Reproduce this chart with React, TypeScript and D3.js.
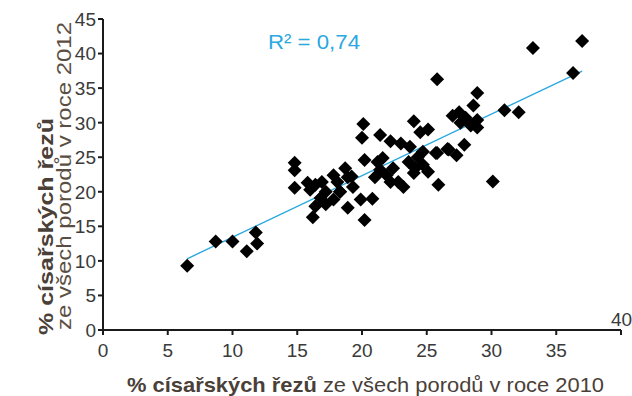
import React from 'react';
import * as d3 from 'd3';

// % caesarean sections: [2010, 2012]
const points2010: number[] = [
  6.5, 8.7, 10.0, 11.1, 11.8, 11.9,
  14.8, 14.8, 14.8, 15.8, 16.0, 16.2, 16.4, 16.4, 16.8, 16.9, 17.2, 17.2,
  17.8, 17.8, 18.1, 18.3, 18.7, 18.9, 18.9, 19.2, 19.3, 19.9, 20.2, 20.8,
  20.1, 20.0, 21.4, 22.2, 23.0, 24.0, 24.5, 25.1, 23.7, 24.7, 25.8, 26.6,
  20.2, 21.2, 21.6, 21.4, 21.0, 21.9, 22.4, 22.2, 22.8, 23.2, 23.6, 24.1,
  24.7, 25.1, 24.3, 25.9, 24.0, 18.3,
  25.8, 28.9, 28.6, 27.0, 27.5, 28.0, 27.6, 28.4, 28.9, 28.9,
  25.7, 26.7, 27.3, 27.9,
  30.1, 31.0, 32.1, 33.2, 36.3, 37.0,
];
const points2012: number[] = [
  9.3, 12.8, 12.8, 11.4, 14.1, 12.5,
  24.2, 23.1, 20.6, 21.3, 20.3, 16.3, 21.0, 17.9, 19.1, 21.4, 20.0, 18.2,
  22.4, 18.9, 21.4, 20.0, 23.4, 22.1, 17.7, 22.2, 20.7, 18.9, 15.9, 19.0,
  29.8, 27.8, 28.2, 27.3, 27.0, 30.2, 28.6, 29.0, 26.5, 25.8, 25.6, 26.2,
  24.6, 24.3, 24.9, 23.2, 22.1, 22.4, 23.4, 21.4, 21.4, 20.7, 24.3, 23.4,
  23.9, 22.9, 25.0, 21.0, 22.7, 20.0,
  36.3, 34.3, 32.5, 31.0, 31.5, 30.7, 30.0, 29.6, 30.4, 29.3,
  25.6, 26.1, 25.3, 26.8,
  21.5, 31.8, 31.5, 40.8, 37.2, 41.8,
];
const xTicks = [0, 5, 10, 15, 20, 25, 30, 35];
const yTicks = [0, 5, 10, 15, 20, 25, 30, 35, 40, 45];
const rSquaredLabel = 'R² = 0,74';

export default function App() {
  const width = 632;
  const height = 396;
  const x = d3.scaleLinear().domain([0, 40]).range([103, 621]);
  const y = d3.scaleLinear().domain([0, 45]).range([330, 19]);

  const data = points2010.map((v, i) => [v, points2012[i]] as [number, number]);

  // least squares trend line
  const mx = d3.mean(points2010)!;
  const my = d3.mean(points2012)!;
  const slope =
    d3.sum(data, d => (d[0] - mx) * (d[1] - my)) / d3.sum(data, d => (d[0] - mx) ** 2);
  const intercept = my - slope * mx;
  const [xMin, xMax] = d3.extent(points2010) as [number, number];

  const diamond = d3.symbol(d3.symbolSquare, 98)();
  const axisColor = '#1a1a1a';
  const labelColor = '#3a3a3a';
  const font = 'Liberation Sans, Arial, sans-serif';

  return (
    <svg width={width} height={height} style={{ position: 'absolute', left: 0, top: 0, background: '#fff' }}
      fontFamily={font}>
      {/* trend line */}
      <line x1={x(xMin)} y1={y(intercept + slope * xMin)} x2={x(xMax)} y2={y(intercept + slope * xMax)}
        stroke="#2aa8e0" strokeWidth={1.4} />

      {data.map((d, i) => (
        <path key={i} d={diamond!} transform={`translate(${x(d[0])},${y(d[1])}) rotate(45)`} fill="#000" />
      ))}

      {/* y axis */}
      <line x1={x(0)} y1={y(45)} x2={x(0)} y2={y(0)} stroke={axisColor} strokeWidth={2} />
      {yTicks.map(t => (
        <g key={t}>
          <line x1={x(0) - 5} x2={x(0)} y1={y(t)} y2={y(t)} stroke={axisColor} strokeWidth={2} />
          <text x={x(0) - 7} y={y(t)} dy="0.36em" textAnchor="end" fontSize={19} fill={labelColor}>{t}</text>
        </g>
      ))}

      {/* x axis */}
      <line x1={x(0)} y1={y(0)} x2={x(40)} y2={y(0)} stroke={axisColor} strokeWidth={2} />
      {[...xTicks, 40].map(t => (
        <line key={t} x1={x(t)} x2={x(t)} y1={y(0)} y2={y(0) + 5} stroke={axisColor} strokeWidth={2} />
      ))}
      {xTicks.map(t => (
        <text key={t} x={x(t)} y={357} textAnchor="middle" fontSize={19} fill={labelColor}>{t}</text>
      ))}
      <text x={611} y={326} fontSize={19} fill={labelColor}>40</text>

      <text x={268} y={49} fontSize={20} fill="#2aa8e0" textLength={92} lengthAdjust="spacingAndGlyphs">
        {rSquaredLabel}
      </text>

      {/* axis titles */}
      <text x={127} y={392} fontSize={21} fill="#4a4038" textLength={477} lengthAdjust="spacingAndGlyphs">
        <tspan fontWeight="bold">% císařských řezů</tspan> ze všech porodů v roce 2010
      </text>
      <text transform="translate(53,335) rotate(-90)" fontSize={21} fontWeight="bold" fill="#4a4038"
        textLength={217} lengthAdjust="spacingAndGlyphs">
        % císařských řezů
      </text>
      <text transform="translate(71,330) rotate(-90)" fontSize={21} fill="#5a4e42"
        textLength={308} lengthAdjust="spacingAndGlyphs">
        ze všech porodů v roce 2012
      </text>
    </svg>
  );
}
